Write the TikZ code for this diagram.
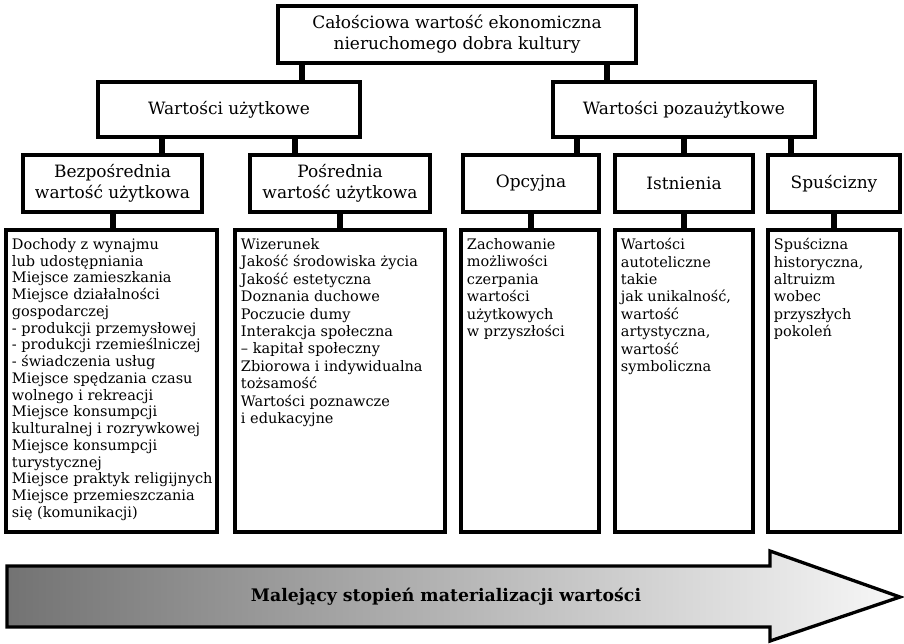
\documentclass[tikz,border=0pt]{standalone}
\usepackage{fontspec}
\setmainfont{DejaVu Serif}
\usetikzlibrary{positioning}
\tikzset{
  headbox/.style={draw, line width=3.5pt, fill=white, inner sep=0pt, align=center,
    font=\fontsize{17}{21}\selectfont},
  listbox/.style={draw, line width=3.5pt, fill=white, inner sep=0pt},
  listtext/.style={anchor=north west, align=left, inner sep=0pt,
    font=\fontsize{14.5}{17.4}\selectfont},
  conn/.style={line width=6pt},
}

\begin{document}
\begin{tikzpicture}[x=1pt,y=-1pt]
  \useasboundingbox (0,0) rectangle (904,643);

  % level 1 and 2
  \node[headbox, minimum width=358pt, minimum height=57pt] (total) at (457,34.5)
    {Całościowa wartość ekonomiczna\\nieruchomego dobra kultury};
  \node[headbox, minimum width=262pt, minimum height=55pt] (uzyt) at (229,109.5) {Wartości użytkowe};
  \node[headbox, minimum width=262pt, minimum height=55pt] (pozauzyt) at (684,109.5) {Wartości pozaużytkowe};

  % level 3
  \node[headbox, minimum width=179pt, minimum height=57pt] (bezp) at (112.5,183.5) {Bezpośrednia\\wartość użytkowa};
  \node[headbox, minimum width=180pt, minimum height=57pt] (posr) at (340,183.5) {Pośrednia\\wartość użytkowa};
  \node[headbox, minimum width=136pt, minimum height=57pt] (opc) at (531,183.5) {Opcyjna};
  \node[headbox, minimum width=138pt, minimum height=57pt] (istn) at (684,183.5) {Istnienia};
  \node[headbox, minimum width=132pt, minimum height=57pt] (spu) at (834,183.5) {Spuścizny};

  % level 4
  \node[listbox, minimum width=211pt, minimum height=302pt] (bezplist) at (111.5,381) {};
  \node[listbox, minimum width=210pt, minimum height=302pt] (posrlist) at (340,381) {};
  \node[listbox, minimum width=138pt, minimum height=302pt] (opclist) at (530,381) {};
  \node[listbox, minimum width=138pt, minimum height=302pt] (istnlist) at (684,381) {};
  \node[listbox, minimum width=132pt, minimum height=302pt] (spulist) at (834,381) {};

  \node[listtext, font=\fontsize{14.5}{16.75}\selectfont] (bezptxt) at ([xshift=7.5pt,yshift=-10pt]bezplist.north west)
    {Dochody z wynajmu\\lub udostępniania\\Miejsce zamieszkania\\Miejsce działalności\\gospodarczej\\
     - produkcji przemysłowej\\- produkcji rzemieślniczej\\- świadczenia usług\\
     Miejsce spędzania czasu\\wolnego i rekreacji\\Miejsce konsumpcji\\kulturalnej i rozrywkowej\\
     Miejsce konsumpcji\\turystycznej\\Miejsce praktyk religijnych\\Miejsce przemieszczania\\się (komunikacji)};
  \node[listtext] (posrtxt) at ([xshift=7.5pt,yshift=-10pt]posrlist.north west)
    {Wizerunek\\Jakość środowiska życia\\Jakość estetyczna\\Doznania duchowe\\Poczucie dumy\\
     Interakcja społeczna\\– kapitał społeczny\\Zbiorowa i indywidualna\\tożsamość\\
     Wartości poznawcze\\i edukacyjne};
  \node[listtext] (opctxt) at ([xshift=7.5pt,yshift=-10pt]opclist.north west)
    {Zachowanie\\możliwości\\czerpania\\wartości\\użytkowych\\w przyszłości};
  \node[listtext] (istntxt) at ([xshift=7.5pt,yshift=-10pt]istnlist.north west)
    {Wartości\\autoteliczne\\takie\\jak unikalność,\\wartość\\artystyczna,\\wartość\\symboliczna};
  \node[listtext] (sputxt) at ([xshift=7.5pt,yshift=-10pt]spulist.north west)
    {Spuścizna\\historyczna,\\altruizm\\wobec\\przyszłych\\pokoleń};

  % connectors
  \draw[conn] ([xshift=-155pt]total.south) -- ([xshift=-155pt]total.south |- uzyt.north);
  \draw[conn] ([xshift=150pt]total.south) -- ([xshift=150pt]total.south |- pozauzyt.north);
  \draw[conn] ([xshift=-67pt]uzyt.south) -- ([xshift=-67pt]uzyt.south |- bezp.north);
  \draw[conn] ([xshift=66pt]uzyt.south) -- ([xshift=66pt]uzyt.south |- posr.north);
  \draw[conn] ([xshift=-107pt]pozauzyt.south) -- ([xshift=-107pt]pozauzyt.south |- opc.north);
  \draw[conn] (pozauzyt.south) -- (pozauzyt.south |- istn.north);
  \draw[conn] ([xshift=107pt]pozauzyt.south) -- ([xshift=107pt]pozauzyt.south |- spu.north);
  \foreach \a/\b in {bezp/bezplist,posr/posrlist,opc/opclist,istn/istnlist,spu/spulist}
    \draw[conn] (\a.south) -- (\a.south |- \b.north);

  % trend arrow
  \shade[left color=black!55, right color=black!3, draw, line width=3.3pt, line join=miter]
    (7,566) -- (770,566) -- (770,551) -- (900,597) -- (770,641) -- (770,627) -- (7,627) -- cycle;
  \node[font=\bfseries\fontsize{17.3}{20}\selectfont] (trend) at (446,597)
    {Malejący stopień materializacji wartości};
\end{tikzpicture}
\end{document}
